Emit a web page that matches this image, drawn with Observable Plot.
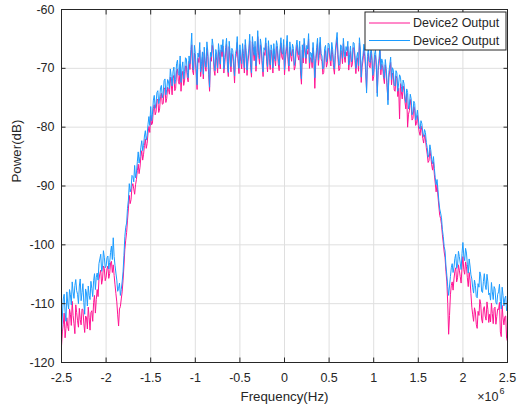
<!DOCTYPE html>
<html><head><meta charset="utf-8">
<script src="https://cdn.jsdelivr.net/npm/d3@7"></script>
<script src="https://cdn.jsdelivr.net/npm/@observablehq/plot@0.6"></script>
<style>
html,body{margin:0;padding:0;background:#fff;}
#chart{width:517px;height:409px;}
</style></head><body><div id="chart"></div>
<script>
const seriesNames = ["Device2 Output", "Device2 Output"];
const seriesColors = ["#ff1493", "#1c9cff"];
const freqStartMHz = -2.5;
const freqStepMHz = 0.01;
const xTicks = [-2.5, -2, -1.5, -1, -0.5, 0, 0.5, 1, 1.5, 2, 2.5];
const yTicks = [-120, -110, -100, -90, -80, -70, -60];

// first "Device2 Output" (magenta), dB, one row = 0.2 MHz
const pinkDb = [
-117.2,-114.8,-113.5,-111.6,-115.8,-114.2,-112.4,-113.9,-114.6,-110.9,-111.8,-113.7,-109.6,-112.0,-113.4,-115.1,-110.2,-111.5,-112.9,-114.0,
-110.8,-112.7,-113.6,-110.9,-111.0,-113.3,-114.9,-112.1,-112.3,-114.3,-110.6,-112.4,-114.5,-111.5,-111.2,-113.0,-109.8,-108.6,-111.6,-109.3,
-107.6,-108.8,-105.9,-104.9,-104.3,-106.7,-105.8,-103.6,-104.0,-106.1,-105.5,-104.1,-103.6,-105.7,-104.9,-103.1,-102.8,-104.7,-103.4,-105.2,
-106.8,-108.3,-109.7,-111.9,-113.8,-110.9,-110.5,-109.2,-108.0,-106.0,-103.6,-100.8,-99.2,-97.9,-95.8,-93.9,-91.6,-93.0,-92.3,-90.1,
-89.6,-90.5,-91.4,-89.8,-88.9,-87.4,-86.3,-87.9,-86.8,-85.0,-84.0,-85.6,-84.6,-83.1,-82.0,-83.6,-82.8,-81.0,-79.9,-80.9,
-78.0,-79.6,-79.3,-76.8,-76.2,-77.9,-77.4,-75.3,-75.3,-77.5,-76.9,-74.8,-74.2,-76.1,-76.0,-73.6,-73.3,-75.8,-75.1,-73.2,
-73.6,-74.4,-71.5,-72.6,-74.5,-71.7,-71.2,-73.8,-73.4,-70.4,-70.1,-72.2,-72.7,-69.3,-73.9,-71.3,-70.5,-72.9,-72.0,-69.6,
-69.6,-71.5,-72.3,-68.8,-70.2,-67.9,-66.0,-70.4,-71.1,-67.4,-68.5,-71.0,-73.6,-68.3,-69.0,-66.9,-71.4,-69.7,-68.1,-71.8,
-67.3,-69.6,-70.5,-66.6,-68.0,-71.1,-73.9,-68.2,-68.8,-66.1,-67.0,-70.3,-71.2,-67.5,-68.6,-70.8,-66.9,-68.0,-70.1,-66.9,
-68.0,-66.2,-70.8,-69.3,-67.4,-65.9,-69.6,-71.4,-66.3,-68.4,-70.6,-67.5,-67.9,-69.6,-72.5,-68.4,-67.7,-65.6,-69.2,-70.9,
-66.9,-68.8,-70.1,-66.7,-68.3,-70.8,-66.0,-67.9,-71.2,-68.9,-67.5,-65.3,-69.8,-71.5,-65.5,-67.1,-68.7,-66.3,-70.5,-68.2,
-64.6,-67.8,-69.3,-66.0,-67.1,-69.5,-71.4,-67.3,-67.8,-65.7,-68.9,-70.6,-66.2,-68.3,-70.2,-66.9,-67.9,-70.8,-66.7,-68.5,
-69.6,-66.3,-67.0,-69.2,-70.4,-67.5,-65.7,-68.1,-68.5,-66.0,-71.1,-68.6,-67.2,-65.4,-68.9,-70.5,-66.4,-67.9,-68.8,-66.8,
-67.5,-70.3,-69.7,-67.2,-66.1,-67.9,-68.6,-66.3,-70.8,-72.7,-66.9,-69.1,-65.8,-67.4,-69.2,-67.0,-67.6,-65.0,-70.0,-68.2,
-68.3,-69.9,-66.5,-68.7,-73.4,-69.2,-67.4,-65.8,-69.5,-67.8,-65.6,-68.4,-68.8,-71.0,-70.7,-67.5,-67.0,-69.8,-69.1,-66.6,
-66.8,-68.5,-69.6,-66.5,-67.7,-69.9,-71.0,-67.8,-66.2,-64.8,-68.5,-70.4,-70.1,-66.9,-67.3,-69.2,-65.8,-68.0,-69.0,-67.2,
-67.9,-66.3,-70.3,-68.6,-67.1,-69.8,-69.4,-66.5,-66.6,-68.7,-70.9,-69.0,-68.2,-70.5,-65.7,-67.6,-72.4,-69.8,-68.7,-66.8,
-68.0,-70.7,-73.6,-68.9,-67.4,-69.6,-69.9,-67.2,-68.7,-72.1,-71.4,-68.5,-67.8,-70.2,-74.2,-70.4,-69.2,-67.1,-71.1,-69.3,
-69.8,-71.5,-72.6,-69.4,-70.9,-73.3,-75.4,-71.6,-70.3,-69.0,-72.8,-70.8,-71.2,-73.7,-73.9,-71.3,-71.7,-74.8,-73.4,-78.6,
-72.6,-74.0,-75.2,-73.0,-73.7,-75.6,-76.9,-74.4,-80.0,-77.8,-77.2,-75.3,-76.3,-78.8,-78.5,-76.5,-77.1,-79.7,-79.4,-78.0,
-79.7,-80.8,-81.4,-79.8,-80.5,-81.9,-82.7,-81.3,-82.0,-83.5,-84.6,-86.0,-85.7,-83.9,-85.0,-86.4,-87.3,-85.9,-88.1,-89.5,
-91.0,-89.8,-91.7,-93.4,-95.0,-95.5,-96.5,-98.3,-99.7,-101.2,-102.2,-104.5,-106.3,-110.0,-115.2,-112.0,-108.5,-106.9,-106.3,-107.7,
-105.8,-104.5,-103.9,-106.3,-105.6,-103.4,-104.3,-105.4,-106.5,-103.8,-102.0,-104.2,-105.0,-102.9,-103.7,-105.6,-107.1,-104.7,-106.0,-108.3,
-110.6,-111.9,-113.0,-110.7,-111.4,-113.5,-114.2,-111.3,-112.0,-109.3,-110.1,-112.6,-113.3,-110.9,-110.5,-112.1,-112.8,-109.7,-111.0,-113.2,
-111.8,-113.1,-109.9,-111.7,-113.4,-110.8,-110.6,-113.5,-112.2,-110.9,-111.0,-109.8,-114.8,-115.6,-110.3,-112.4,-113.6,-112.2,-112.1,-115.9,
-116.4
];

// second "Device2 Output" (blue), dB, one row = 0.2 MHz
const blueDb = [
-115.0,-112.1,-109.2,-108.4,-111.4,-113.0,-108.0,-109.9,-110.9,-107.6,-108.5,-110.2,-106.3,-108.0,-109.1,-106.9,-105.9,-107.8,-108.4,-110.0,
-107.0,-105.8,-109.5,-108.1,-106.6,-109.8,-111.8,-107.5,-108.2,-110.4,-107.0,-108.6,-109.3,-106.2,-107.4,-108.8,-106.1,-104.9,-107.6,-105.5,
-104.8,-106.0,-103.2,-102.4,-101.6,-104.5,-103.8,-101.0,-102.1,-103.9,-103.6,-102.2,-101.9,-104.1,-103.0,-101.3,-100.2,-102.5,-98.8,-102.0,
-103.5,-104.8,-106.0,-107.9,-107.4,-106.5,-108.6,-107.6,-106.3,-104.6,-101.8,-98.6,-97.0,-96.3,-93.8,-92.4,-89.6,-91.0,-90.4,-88.2,
-88.4,-89.3,-86.5,-88.6,-87.8,-85.9,-84.2,-86.1,-85.0,-83.4,-82.3,-84.0,-83.1,-81.5,-80.6,-82.2,-81.4,-79.5,-78.2,-79.7,
-76.5,-78.9,-77.8,-75.4,-74.6,-76.8,-75.9,-74.1,-73.8,-76.0,-75.2,-73.3,-72.9,-75.0,-74.3,-72.1,-71.8,-74.5,-73.6,-71.9,
-72.3,-73.5,-70.1,-71.4,-73.0,-70.6,-69.8,-72.6,-71.9,-69.2,-68.6,-70.9,-71.2,-67.9,-72.4,-70.0,-68.9,-71.8,-70.5,-68.2,
-68.4,-70.7,-71.6,-67.9,-69.2,-66.8,-64.0,-69.5,-70.3,-66.1,-67.5,-70.0,-72.8,-67.4,-68.1,-65.6,-70.6,-68.9,-67.2,-71.0,
-66.4,-68.7,-69.8,-65.5,-67.1,-70.2,-73.2,-67.3,-68.0,-65.0,-66.2,-69.1,-70.4,-66.8,-67.6,-69.9,-65.8,-67.2,-69.3,-66.0,
-67.2,-65.1,-70.1,-68.2,-66.5,-64.9,-68.8,-70.7,-65.4,-67.3,-69.7,-66.6,-67.0,-68.9,-71.3,-67.5,-66.8,-64.6,-68.4,-70.0,
-66.0,-68.0,-69.2,-65.8,-67.5,-69.9,-65.1,-67.0,-70.3,-68.1,-66.7,-64.2,-68.9,-70.8,-64.6,-66.3,-67.8,-65.4,-69.6,-67.3,
-63.6,-66.9,-68.4,-65.0,-66.2,-68.7,-70.6,-66.5,-66.9,-64.8,-68.1,-69.7,-65.3,-67.4,-69.4,-66.0,-67.0,-69.9,-65.8,-67.7,
-68.7,-65.3,-66.1,-68.4,-69.5,-66.6,-64.8,-67.2,-67.6,-65.1,-70.2,-67.7,-66.3,-64.4,-68.0,-69.6,-65.5,-67.0,-67.9,-65.9,
-66.6,-69.5,-68.8,-66.3,-65.2,-67.0,-67.7,-65.4,-69.9,-71.8,-66.0,-68.2,-64.9,-66.5,-68.3,-66.1,-66.7,-64.1,-69.1,-67.3,
-67.4,-69.0,-65.6,-67.8,-71.6,-68.3,-66.5,-64.9,-68.6,-66.9,-64.7,-67.5,-67.9,-70.1,-69.8,-66.6,-66.1,-68.9,-68.2,-65.7,
-65.9,-67.6,-68.7,-65.6,-66.8,-69.0,-70.1,-66.9,-65.3,-63.9,-67.6,-69.5,-69.2,-66.0,-66.4,-68.3,-64.9,-67.1,-68.1,-66.3,
-67.0,-65.4,-69.4,-67.7,-66.2,-68.9,-68.5,-65.6,-65.7,-67.8,-70.0,-68.1,-67.3,-69.6,-64.8,-66.7,-71.5,-68.9,-67.8,-65.9,
-67.1,-69.8,-74.2,-68.0,-66.5,-68.7,-69.0,-66.3,-67.8,-71.2,-70.5,-67.6,-66.9,-69.3,-74.8,-69.5,-68.3,-66.2,-70.2,-68.4,
-68.9,-70.6,-71.7,-68.5,-70.0,-72.4,-76.2,-70.7,-69.4,-68.1,-71.9,-69.9,-70.3,-72.8,-73.0,-70.4,-70.8,-73.9,-72.5,-71.1,
-71.5,-73.1,-74.0,-72.0,-72.6,-74.7,-75.8,-73.5,-74.1,-76.9,-76.3,-74.4,-75.2,-77.9,-77.4,-75.6,-76.0,-78.8,-78.3,-77.1,
-78.6,-79.9,-80.3,-78.9,-79.4,-81.0,-81.6,-80.4,-80.9,-82.6,-83.5,-85.1,-84.6,-83.0,-83.9,-85.5,-86.2,-85.0,-87.0,-88.6,
-89.8,-88.9,-90.6,-92.5,-93.9,-94.6,-95.4,-97.4,-98.6,-100.3,-101.0,-103.6,-105.2,-107.1,-108.6,-107.0,-105.4,-103.9,-103.2,-104.7,
-103.8,-102.3,-101.6,-104.0,-103.5,-101.1,-102.0,-103.1,-104.2,-101.5,-99.6,-101.9,-102.7,-100.6,-101.4,-103.3,-104.8,-102.4,-103.6,-105.1,
-105.8,-107.3,-108.2,-106.0,-106.9,-108.8,-109.0,-106.6,-107.2,-104.6,-105.3,-107.9,-108.1,-106.2,-104.9,-106.8,-107.6,-105.0,-106.3,-108.5,
-108.2,-109.4,-106.4,-108.0,-109.3,-107.1,-107.5,-109.8,-110.1,-108.4,-108.0,-106.7,-109.6,-110.9,-107.2,-108.6,-110.4,-109.1,-108.7,-111.2,
-110.8
];

const rows = (vals) => vals.map((v, i) => ({f: Math.round((freqStartMHz + i * freqStepMHz) * 1000) / 1000, p: v}));
const fmt = d => String(d);
const font = "'Liberation Sans', Arial, Helvetica, sans-serif";
const ink = "#262626";

const chart = Plot.plot({
  width: 517, height: 409,
  marginLeft: 61, marginRight: 10, marginTop: 9, marginBottom: 47,
  style: {fontFamily: font, fontSize: "12.5px", color: ink, background: "#fff", overflow: "visible"},
  x: {domain: [-2.5, 2.5]},
  y: {domain: [-120, -60]},
  marks: [
    Plot.gridX(xTicks, {stroke: "#dfdfdf", strokeOpacity: 1, strokeWidth: 1}),
    Plot.gridY(yTicks, {stroke: "#dfdfdf", strokeOpacity: 1, strokeWidth: 1}),
    Plot.line(rows(pinkDb), {x: "f", y: "p", stroke: seriesColors[0], strokeWidth: 1}),
    Plot.line(rows(blueDb), {x: "f", y: "p", stroke: seriesColors[1], strokeWidth: 1}),
    Plot.axisX(xTicks, {anchor: "bottom", tickSize: -4.5, tickPadding: 15, tickFormat: fmt, label: null, stroke: ink, fill: ink, fontSize: 12.5}),
    Plot.axisX(xTicks, {anchor: "top", tickSize: -4.5, tickFormat: () => "", label: null, stroke: ink}),
    Plot.axisY(yTicks, {anchor: "left", tickSize: -4.5, tickPadding: 11.5, tickFormat: fmt, label: null, stroke: ink, fill: ink, fontSize: 12.5}),
    Plot.axisY(yTicks, {anchor: "right", tickSize: -4.5, tickFormat: () => "", label: null, stroke: ink}),
    Plot.frame({stroke: ink, strokeWidth: 1}),
    Plot.text(["Frequency(Hz)"], {text: d => d, frameAnchor: "bottom", lineAnchor: "top", dy: 29.5, fontSize: 13.3, fill: ink}),
    Plot.text(["Power(dB)"], {text: d => d, frameAnchor: "left", rotate: -90, dx: -44.5, dy: -3.5, fontSize: 13.3, fill: ink}),
    Plot.text(["×10"], {text: d => d, frameAnchor: "bottom-right", textAnchor: "end", dx: -9, dy: 38, fontSize: 12.5, fill: ink}),
    Plot.text(["6"], {text: d => d, frameAnchor: "bottom-right", textAnchor: "start", dx: -8, dy: 31, fontSize: 9, fill: ink})
  ]
});
document.getElementById("chart").appendChild(chart);

// legend
const svg = d3.select(chart);
const lg = svg.append("g").attr("font-family", font).attr("font-size", 12.5).attr("text-anchor", "start");
lg.append("rect").attr("x", 365).attr("y", 12).attr("width", 141).attr("height", 38)
  .attr("fill", "#fff").attr("stroke", ink).attr("stroke-width", 1);
seriesNames.forEach((name, i) => {
  const yy = 23 + i * 17.5;
  lg.append("line").attr("x1", 369).attr("x2", 410).attr("y1", yy).attr("y2", yy)
    .attr("stroke", seriesColors[i]).attr("stroke-width", 1);
  lg.append("text").attr("x", 413).attr("y", yy).attr("dy", "0.35em").attr("fill", ink)
    .attr("text-anchor", "start").text(name);
});
</script></body></html>
